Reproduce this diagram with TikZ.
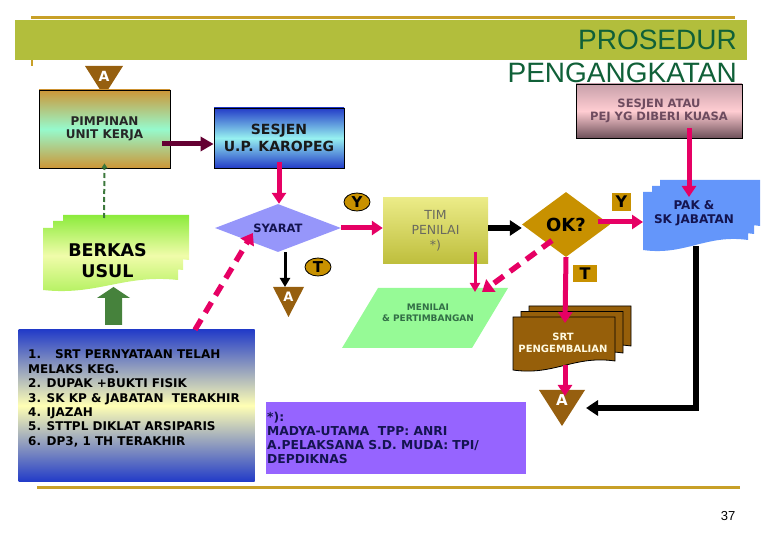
\documentclass[tikz,border=0pt]{standalone}
\usepackage{fontspec}
\setmainfont{DejaVu Sans}
\newfontfamily\arialf{Liberation Sans}
\usetikzlibrary{shapes.geometric,arrows.meta,calc}
\definecolor{bandc}{RGB}{178,190,60}
\definecolor{goldline}{RGB}{200,160,40}
\definecolor{titlec}{RGB}{16,96,56}
\definecolor{trib}{RGB}{150,95,15}
\definecolor{pinkc}{RGB}{230,0,100}
\definecolor{maroonc}{RGB}{100,0,50}
\definecolor{goldbox}{RGB}{205,150,55}
\definecolor{mintc}{RGB}{150,250,205}
\definecolor{blueA}{RGB}{35,60,200}
\definecolor{cyanc}{RGB}{150,240,240}
\definecolor{lavc}{RGB}{150,150,250}
\definecolor{navyc}{RGB}{20,20,80}
\definecolor{timtop}{RGB}{235,235,135}
\definecolor{timbot}{RGB}{190,190,60}
\definecolor{timtext}{RGB}{105,105,95}
\definecolor{labgold}{RGB}{200,145,0}
\definecolor{menc}{RGB}{150,250,150}
\definecolor{mentext}{RGB}{50,110,70}
\definecolor{srtc}{RGB}{150,95,10}
\definecolor{srttext}{RGB}{255,250,225}
\definecolor{pakc}{RGB}{100,150,250}
\definecolor{purpc}{RGB}{150,100,255}
\definecolor{greenarr}{RGB}{70,130,60}
\definecolor{greendash}{RGB}{60,120,60}
\definecolor{listyel}{RGB}{255,255,180}
\definecolor{kuatop}{RGB}{200,160,170}
\definecolor{kuamid}{RGB}{255,205,210}
\definecolor{kuabot}{RGB}{110,80,90}
\definecolor{kuatext}{RGB}{110,75,95}
\definecolor{berktop}{RGB}{140,235,60}
\definecolor{berkmid}{RGB}{240,252,170}
\definecolor{berkbot}{RGB}{175,240,90}
\newcommand\myfs[2]{\fontsize{#1}{#2}\selectfont}
% document shape: x1, ytop, x2, ybottom-left, ybottom-right
\newcommand\docpath[5]{(#1,#2) -- (#3,#2) -- (#3,#5) .. controls ({#3-0.4*(#3-#1)},{#5-6}) and ({#1+0.4*(#3-#1)},{#4+6}) .. (#1,#4) -- cycle}
\begin{document}
\begin{tikzpicture}[x=1pt,y=-1pt,
  pinkarr/.style={draw=pinkc, line width=5pt, -{Triangle[length=11pt,width=14pt]}},
  pinkthin/.style={draw=pinkc, line width=3pt, -{Triangle[length=9pt,width=10pt]}},
  pinkdash/.style={draw=pinkc, line width=5.5pt, dash pattern=on 12pt off 8pt, -{Triangle[length=11pt,width=15pt]}},
  blackthick/.style={draw=black, line width=6pt, -{Triangle[length=12pt,width=15pt]}},
  blackthin/.style={draw=black, line width=3pt, -{Triangle[length=9pt,width=10pt]}},
  maroonarr/.style={draw=maroonc, line width=5pt, -{Triangle[length=13pt,width=14pt]}},
  greendashed/.style={draw=greendash, line width=2pt, dash pattern=on 5pt off 3pt, -{Triangle[length=5pt,width=6pt]}},
  boxtext/.style={align=center, inner sep=0pt},
  triA/.style={text=white, font=\bfseries, inner sep=0pt},
  ylabel/.style={ellipse, draw=black, line width=0.8pt, fill=labgold, minimum width=26pt, minimum height=18pt, inner sep=0pt, font=\bfseries\myfs{15}{15}},
  sqlabel/.style={fill=labgold, inner sep=0pt, font=\bfseries\myfs{16}{16}},
]
\useasboundingbox (0,0) rectangle (780,540);
% title band and rules
\fill[bandc] (15,20) rectangle (747,60);
\draw[goldline, line width=2.5pt] (31,17.5) -- (735,17.5);
\draw[goldline, line width=2.5pt] (32,60) -- (32,66);
\draw[goldline, line width=3pt] (37,487) -- (740,487);
\node[anchor=base east, inner sep=0pt, text=titlec, font=\arialf\myfs{28}{30}] (title1) at (737,50) {PROSEDUR};
\node[anchor=base east, inner sep=0pt, text=titlec, font=\arialf\myfs{28}{30}] (title2) at (737,83) {PENGANGKATAN};

% triangle A1
\fill[trib] (85,66) -- (123,66) -- (104,96) -- cycle;
\node[triA, font=\bfseries\myfs{14}{14}] (a1) at (104,76) {A};

% PIMPINAN
\node[draw=black, line width=0.8pt, minimum width=131pt, minimum height=78pt, top color=goldbox, bottom color=goldbox, middle color=mintc, boxtext, text=black!85, font=\bfseries\myfs{12}{13.5}] (pimp) at (104.5,129) {PIMPINAN\\UNIT KERJA};

% SESJEN
\node[draw=black, line width=0.8pt, minimum width=130pt, minimum height=60pt, top color=blueA, bottom color=blueA, middle color=cyanc, boxtext, text=black!90, font=\bfseries\myfs{14}{17.5}] (sesjen) at (279,138) {SESJEN\\U.P. KAROPEG};

% SESJEN ATAU
\node[draw=black, line width=0.8pt, minimum width=166pt, minimum height=54pt, top color=kuatop, bottom color=kuabot, middle color=kuamid, boxtext, text=kuatext, font=\bfseries\myfs{11.5}{13}] (kuasa) at (659,111) {SESJEN ATAU\\PEJ YG DIBERI KUASA};

% SYARAT
\node[diamond, aspect=2.6, fill=lavc, minimum width=126pt, minimum height=48pt, inner sep=0pt, text=navyc, font=\bfseries\myfs{11.5}{12}] (syarat) at (278,228) {SYARAT};

% TIM PENILAI
\node[minimum width=105pt, minimum height=66pt, top color=timtop, bottom color=timbot, boxtext, text=timtext, font=\myfs{12.5}{15}] (tim) at (435.5,231) {TIM\\PENILAI\\*)};

% OK?
\node[diamond, aspect=1.35, fill=labgold, minimum width=88pt, minimum height=65pt, inner sep=0pt, font=\bfseries\myfs{18}{18}] (ok) at (566,224.5) {OK?};

% labels
\node[ylabel] (y1) at (357,202) {Y};
\node[ylabel] (t1) at (318,267) {T};
\node[sqlabel, minimum width=19pt, minimum height=18pt] (y2) at (621.5,202) {Y};
\node[sqlabel, minimum width=24pt, minimum height=17pt] (t2) at (585,273.5) {T};

% triangle A2
\fill[trib] (273,287) -- (304,287) -- (288.5,317) -- cycle;
\node[triA, font=\bfseries\myfs{13}{13}] (a2) at (288.5,297) {A};

% MENILAI parallelogram
\fill[menc] (378,288) -- (508,288) -- (472,348) -- (342,348) -- cycle;
\node[boxtext, text=mentext, font=\bfseries\myfs{9}{11}] (menilai) at (428,312.5) {MENILAI\\\& PERTIMBANGAN};

% BERKAS USUL stacked document
\shade[top color=berktop, bottom color=berkbot, middle color=berkmid]
  \docpath{63}{215}{189}{266}{260} \docpath{53}{221}{183}{277}{270} \docpath{43}{228}{178}{290}{280};
\node[boxtext, text=black, font=\bfseries\myfs{17.5}{21}] (berkas) at (107.5,260.5) {BERKAS\\USUL};

% green block arrow
\fill[greenarr] (97,298) -- (113.5,287) -- (130,298) -- (122,298) -- (122,325) -- (105,325) -- (105,298) -- cycle;

% PAK stacked document
\fill[pakc] \docpath{660}{180}{760}{232}{226} \docpath{652}{186}{754}{240}{234} \docpath{643}{192}{748}{250}{240};
\node[boxtext, text=navyc, font=\bfseries\myfs{12}{14}] (pak) at (694,213) {PAK \&\\SK JABATAN};

% SRT PENGEMBALIAN stacked document
\filldraw[fill=srtc, draw=black, line width=0.8pt] \docpath{529}{306}{631}{352}{346};
\filldraw[fill=srtc, draw=black, line width=0.8pt] \docpath{521}{311.5}{623}{360}{353};
\filldraw[fill=srtc, draw=black, line width=0.8pt] \docpath{513}{317}{615}{370}{361};
\node[boxtext, text=srttext, font=\bfseries\myfs{10}{12}] (srt) at (563,343) {SRT\\PENGEMBALIAN};

% triangle A3
\fill[trib] (539,390) -- (585,390) -- (562,426) -- cycle;
\node[triA, font=\bfseries\myfs{15}{15}] (a3) at (562,400) {A};

% list box
\node[minimum width=236pt, minimum height=151pt, top color=blueA, bottom color=blueA, middle color=listyel] (list) at (136.5,405.5) {};
\node[anchor=west, align=left, inner sep=0pt, text=black, font=\bfseries\myfs{12}{14.4}] (listtext) at (28,398.5) {1.\hspace{14pt}SRT PERNYATAAN TELAH\\MELAKS KEG.\\2. DUPAK +BUKTI FISIK\\3. SK KP \& JABATAN\ \ TERAKHIR\\4. IJAZAH\\5. STTPL DIKLAT ARSIPARIS\\6. DP3, 1 TH TERAKHIR};

% purple note
\node[minimum width=260pt, minimum height=72pt, fill=purpc, inner sep=0pt] (note) at (396,438) {};
\node[anchor=west, align=left, inner sep=0pt, text=navyc, font=\bfseries\myfs{12.3}{14}] (notetext) at (267,438) {*):\\MADYA-UTAMA\ \ TPP: ANRI\\A.PELAKSANA S.D. MUDA: TPI/\\DEPDIKNAS};

% page number
\node[inner sep=0pt, font=\arialf\myfs{13}{13}] (pageno) at (728,516) {37};

% connector end points
\coordinate (a2top) at (285,287);
\coordinate (mentop) at (475,292);
\coordinate (mentop2) at (482,292);
\coordinate (srttop) at (565,323);
\coordinate (srtbot) at (565,365);
\coordinate (a3top) at (565,396);
\coordinate (pakin) at (689,197);
\coordinate (pakleft) at (643,222);
\coordinate (pakbot) at (696,246);
\coordinate (a3right) at (586,408);
\coordinate (berktopc) at (104,218);

% connectors
\draw[maroonarr] ($(pimp.east)+(-8,15)$) -- ($(sesjen.west)+(0,6)$);
\draw[pinkarr] ($(sesjen.south)+(0,-6)$) -- (sesjen.south |- syarat.north);
\draw[pinkarr] (syarat.east) -- (tim.west |- syarat.east);
\draw[blackthin] ($(syarat.south)+(7,0)$) -- (a2top);
\draw[blackthick] ($(tim.east)+(0,-3)$) -- ($(ok.west)+(0,3.5)$);
\draw[pinkthin] ($(tim.south)+(39.5,-12)$) -- (mentop);
\draw[pinkdash] ($(ok.center)+(-14,16)$) -- (mentop2);
\draw[pinkarr] ($(ok.east)+(-12,-2.5)$) -- (pakleft);
\draw[pinkarr] (ok.south) -- (srttop);
\draw[pinkarr] (srtbot) -- (a3top);
\draw[pinkarr] ($(kuasa.south)+(30,-10)$) -- (pakin);
\draw[blackthick] (pakbot) |- (a3right);
\draw[greendashed] (berktopc) -- ($(pimp.south)+(0,-5)$);
\draw[pinkdash] ($(list.north)+(58.5,0)$) -- ($(syarat.west)+(38,5)$);
\end{tikzpicture}
\end{document}
